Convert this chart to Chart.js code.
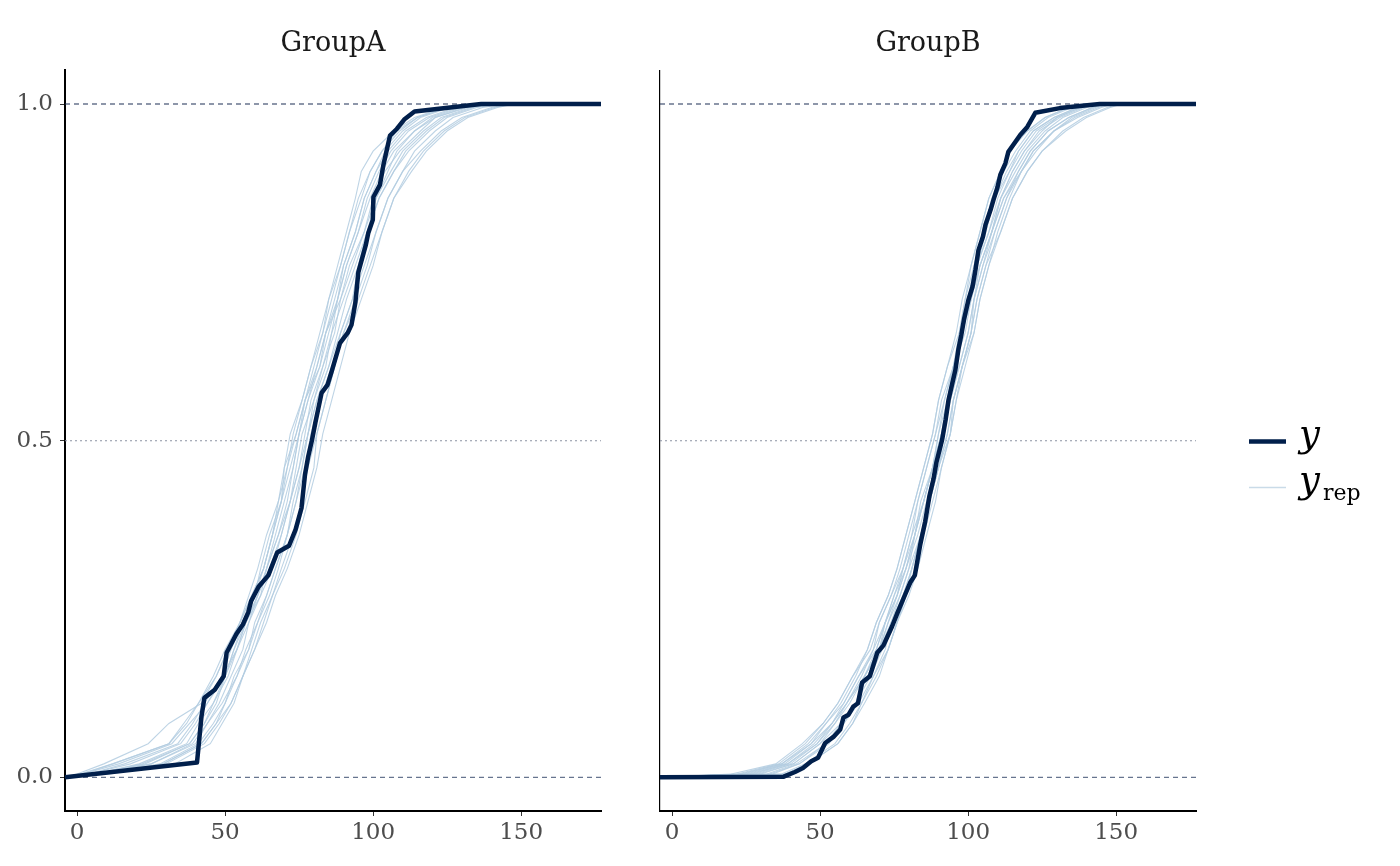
<!DOCTYPE html>
<html>
<head>
<meta charset="utf-8">
<title>ECDF overlay: y vs y_rep</title>
<script src="https://cdn.jsdelivr.net/npm/chart.js@4.4.1/dist/chart.umd.min.js"></script>
<style>
  body { margin: 0; background: #fff; }
  #wrap { position: relative; width: 1400px; height: 866px; }
  canvas { position: absolute; top: 0; }
  #panel-a { left: 0; }
  #panel-b { left: 620px; }
</style>
</head>
<body>
<div id="wrap">
  <canvas id="panel-a" width="620" height="866"></canvas>
  <canvas id="panel-b" width="780" height="866"></canvas>
</div>
<script>
const panelTitles = ['GroupA', 'GroupB'];
const xTicks = [0, 50, 100, 150];
const yTicks = [0, 0.5, 1];
const xLimits = [-4.1, 177];
const yLimits = [-0.05, 1.05];
const legendLabels = ['y', 'y'];
const legendSubs = ['', 'rep'];

// observed data, GroupA (value, cumulative share)
const obsAx = [40.5, 42.0, 43.0, 46.5, 49.5, 50.5, 53.8, 56.0, 57.8, 58.8, 61.3, 64.6, 67.6, 71.6, 73.8, 75.8, 77.0, 78.0, 79.3, 80.5, 82.6, 84.6, 86.0, 88.8, 91.4, 92.7, 94.0, 95.0, 97.5, 98.4, 99.9, 100.1, 102.3, 103.5, 105.7, 108.0, 110.5, 114.0, 136.5];
const obsAp = [0.022, 0.09, 0.118, 0.13, 0.15, 0.185, 0.213, 0.227, 0.245, 0.262, 0.283, 0.30, 0.334, 0.344, 0.368, 0.40, 0.45, 0.475, 0.50, 0.527, 0.571, 0.583, 0.603, 0.645, 0.66, 0.672, 0.705, 0.75, 0.79, 0.809, 0.828, 0.862, 0.88, 0.91, 0.953, 0.963, 0.977, 0.989, 1.0];

// observed data, GroupB
const obsBx = [37.7, 41.5, 44.2, 47.0, 49.3, 51.7, 54.5, 56.8, 57.9, 59.6, 61.2, 62.8, 64.2, 66.8, 69.3, 71.4, 74.3, 76.2, 78.2, 80.4, 82.0, 83.8, 85.5, 86.9, 88.3, 89.3, 91.2, 92.4, 93.4, 94.7, 95.7, 96.7, 97.7, 98.7, 100.1, 101.5, 102.5, 103.5, 105.0, 105.9, 107.6, 108.6, 109.9, 110.9, 112.6, 113.6, 116.0, 117.6, 120.0, 122.7, 131.0, 144.5];
const obsBp = [0.001, 0.008, 0.014, 0.024, 0.029, 0.051, 0.06, 0.071, 0.089, 0.093, 0.105, 0.11, 0.141, 0.15, 0.185, 0.196, 0.224, 0.245, 0.266, 0.289, 0.30, 0.345, 0.38, 0.417, 0.443, 0.468, 0.501, 0.531, 0.561, 0.586, 0.605, 0.635, 0.657, 0.682, 0.709, 0.729, 0.754, 0.783, 0.803, 0.821, 0.843, 0.858, 0.876, 0.895, 0.912, 0.929, 0.944, 0.954, 0.966, 0.987, 0.994, 1.0];

// replicated draws: value reached at each cumulative share
const repProbs = [0.005, 0.02, 0.05, 0.08, 0.11, 0.15, 0.19, 0.23, 0.27, 0.31, 0.36, 0.41, 0.46, 0.51, 0.56, 0.61, 0.66, 0.71, 0.76, 0.81, 0.86, 0.90, 0.93, 0.96, 0.98, 0.995, 1.0];

const repA = [
  [1, 12, 31, 36, 41, 46, 50, 55, 58, 61, 64, 68, 70, 72, 76, 79, 83, 85, 89, 92, 95, 99, 103, 108, 115, 125, 134],
  [4, 16, 34, 39, 43, 49, 52, 56, 60, 62, 65, 69, 70, 74, 77, 82, 84, 89, 92, 97, 101, 106, 110, 117, 123, 133, 141],
  [7, 25, 39, 44, 48, 52, 56, 58, 62, 66, 69, 72, 75, 77, 79, 83, 86, 88, 91, 95, 98, 102, 106, 112, 119, 129, 137],
  [11, 33, 45, 49, 53, 56, 59, 62, 66, 69, 73, 76, 78, 81, 84, 87, 90, 94, 98, 101, 105, 110, 114, 121, 127, 137, 145],
  [6, 21, 37, 41, 46, 51, 54, 57, 62, 64, 68, 72, 74, 76, 80, 83, 87, 89, 93, 97, 100, 104, 109, 116, 121, 132, 140],
  [8, 28, 41, 46, 50, 53, 58, 60, 64, 67, 71, 74, 77, 79, 82, 86, 90, 95, 99, 103, 107, 113, 118, 125, 132, 142, 148],
  [2, 14, 32, 38, 44, 49, 54, 57, 61, 64, 68, 71, 73, 75, 77, 80, 83, 86, 89, 92, 96, 99, 103, 109, 115, 125, 135],
  [0, 9, 24, 31, 42, 47, 51, 55, 59, 63, 66, 69, 72, 75, 78, 81, 84, 87, 90, 94, 97, 101, 105, 111, 118, 128, 138],
  [10, 30, 43, 48, 52, 56, 60, 63, 66, 70, 74, 77, 80, 81, 84, 87, 89, 93, 95, 98, 102, 107, 111, 118, 124, 134, 142],
  [9, 29, 42, 47, 52, 56, 60, 64, 67, 71, 75, 78, 81, 83, 86, 89, 92, 96, 100, 103, 107, 112, 117, 124, 131, 141, 147],
  [6, 22, 38, 43, 46, 50, 53, 56, 60, 63, 66, 68, 71, 73, 76, 79, 82, 85, 88, 91, 94, 96, 100, 107, 114, 124, 133],
  [7, 25, 40, 44, 49, 54, 58, 61, 65, 68, 71, 74, 76, 78, 80, 84, 86, 90, 94, 98, 101, 105, 108, 114, 120, 130, 139],
  [4, 18, 35, 40, 44, 50, 53, 57, 61, 65, 69, 72, 75, 78, 81, 85, 88, 91, 95, 98, 102, 107, 112, 119, 125, 135, 143],
  [7, 23, 38, 43, 47, 50, 54, 58, 61, 64, 67, 70, 73, 75, 78, 82, 85, 88, 90, 94, 97, 101, 104, 110, 116, 126, 136],
  [9, 29, 42, 47, 50, 54, 57, 61, 64, 67, 71, 73, 76, 78, 81, 85, 89, 93, 97, 101, 105, 110, 116, 123, 130, 140, 146],
  [2, 12, 31, 37, 41, 47, 51, 55, 59, 63, 66, 69, 71, 74, 77, 81, 84, 88, 91, 95, 99, 103, 107, 114, 121, 131, 139]
];

const repB = [
  [22, 36, 45, 51, 56, 61, 66, 69, 73, 76, 79, 82, 85, 88, 90, 93, 96, 98, 101, 104, 107, 111, 114, 120, 126, 134, 139],
  [26, 39, 48, 54, 58, 63, 69, 72, 75, 79, 82, 85, 88, 91, 94, 97, 100, 102, 104, 108, 111, 115, 119, 125, 130, 138, 144],
  [32, 42, 52, 57, 62, 65, 70, 72, 75, 78, 81, 83, 86, 89, 92, 95, 99, 101, 104, 108, 112, 118, 122, 129, 137, 145, 149],
  [37, 45, 55, 60, 64, 69, 73, 76, 79, 82, 85, 88, 91, 94, 96, 98, 101, 103, 106, 109, 113, 117, 121, 127, 134, 142, 146],
  [29, 41, 50, 55, 60, 65, 69, 72, 76, 78, 82, 84, 88, 90, 93, 96, 98, 101, 103, 107, 111, 115, 119, 124, 131, 139, 144],
  [39, 46, 56, 61, 65, 70, 73, 76, 79, 81, 84, 87, 90, 93, 95, 98, 101, 103, 106, 111, 115, 120, 125, 132, 139, 147, 151],
  [24, 37, 47, 52, 57, 62, 66, 69, 73, 76, 79, 82, 85, 88, 90, 93, 97, 99, 102, 105, 109, 113, 117, 122, 129, 137, 142],
  [20, 35, 44, 51, 56, 61, 67, 70, 74, 78, 81, 85, 88, 91, 93, 96, 98, 100, 102, 105, 108, 112, 116, 121, 127, 135, 141],
  [34, 43, 53, 58, 63, 68, 73, 76, 80, 83, 86, 89, 91, 94, 95, 98, 101, 102, 105, 108, 111, 116, 120, 126, 132, 140, 145],
  [30, 41, 50, 57, 62, 67, 71, 74, 78, 81, 84, 87, 90, 93, 95, 98, 102, 104, 107, 111, 115, 120, 125, 133, 140, 148, 152],
  [25, 38, 47, 54, 59, 65, 70, 74, 78, 81, 84, 87, 90, 92, 93, 95, 97, 99, 101, 104, 107, 111, 114, 120, 126, 134, 139],
  [28, 40, 49, 55, 59, 64, 68, 70, 74, 77, 80, 83, 86, 89, 91, 95, 98, 101, 104, 108, 112, 117, 121, 127, 134, 142, 146],
  [33, 43, 52, 58, 62, 66, 70, 73, 76, 79, 82, 85, 88, 90, 92, 95, 98, 100, 103, 107, 110, 114, 118, 123, 130, 138, 143],
  [23, 37, 46, 52, 58, 63, 68, 72, 76, 79, 83, 86, 89, 92, 94, 97, 100, 102, 105, 109, 113, 118, 122, 129, 136, 144, 148],
  [38, 46, 56, 61, 64, 68, 72, 74, 77, 80, 82, 85, 88, 91, 93, 96, 98, 100, 103, 106, 109, 114, 117, 122, 129, 137, 142],
  [27, 39, 49, 54, 59, 65, 70, 73, 77, 80, 84, 87, 90, 94, 96, 99, 102, 104, 107, 110, 114, 118, 123, 129, 135, 143, 147]
];

const serif = '"DejaVu Serif", serif';
const darkBlue = '#011f4b';
const lightBlue = 'rgba(179, 205, 224, 0.85)';

// ecdf line padded out to both ends of the x scale
function ecdfPoints(xs, ps) {
    const pts = [{ x: xLimits[0], y: 0 }];
    xs.forEach((v, i) => pts.push({ x: v, y: ps[i] }));
    pts.push({ x: xLimits[1], y: 1 });
    return pts;
}

function refLine(level, color, dash) {
    return {
        label: 'ref',
        data: [{ x: xLimits[0], y: level }, { x: xLimits[1], y: level }],
        borderColor: color,
        borderWidth: 1.1,
        borderDash: dash,
        pointRadius: 0
    };
}

const legendPlugin = {
    id: 'ecdfLegend',
    afterDraw(chart) {
        if (!chart.options.plugins.ecdfLegend.show) return;
        const ctx = chart.ctx;
        const x0 = chart.chartArea.right + 53;
        const rows = [441.5, 487.5];
        const styles = [{ color: darkBlue, width: 4.5 }, { color: '#c9dbe8', width: 1.5 }];
        ctx.save();
        rows.forEach((y, i) => {
            ctx.beginPath();
            ctx.strokeStyle = styles[i].color;
            ctx.lineWidth = styles[i].width;
            ctx.moveTo(x0, y);
            ctx.lineTo(x0 + 37, y);
            ctx.stroke();

            ctx.fillStyle = '#000';
            ctx.textBaseline = 'alphabetic';
            ctx.font = 'italic 37px ' + serif;
            ctx.fillText(legendLabels[i], x0 + 50, y + 4);
            if (legendSubs[i]) {
                const w = ctx.measureText(legendLabels[i]).width;
                ctx.font = '22px ' + serif;
                ctx.fillText(legendSubs[i], x0 + 50 + w + 3, y + 12);
            }
        });
        ctx.restore();
    }
};

function makePanel(canvasId, title, obsX, obsP, reps, isLeft) {
    const datasets = [];
    datasets.push({
        label: 'y',
        data: ecdfPoints(obsX, obsP),
        borderColor: darkBlue,
        borderWidth: 4.5,
        borderJoinStyle: 'round',
        pointRadius: 0
    });
    reps.forEach(r => {
        datasets.push({
            label: 'yrep',
            data: ecdfPoints(r, repProbs),
            borderColor: lightBlue,
            borderWidth: 1.1,
            pointRadius: 0
        });
    });
    datasets.push(refLine(1, '#1c2f55', [5, 4]));
    datasets.push(refLine(0.5, '#8c93a2', [2, 3]));
    datasets.push(refLine(0, '#67758f', [5, 4]));

    const canvas = document.getElementById(canvasId);
    new Chart(canvas.getContext('2d'), {
        type: 'line',
        data: { datasets: datasets },
        plugins: [legendPlugin],
        options: {
            responsive: false,
            devicePixelRatio: 1,
            animation: false,
            tension: 0,
            layout: { padding: { left: 0, right: isLeft ? 19 : 204, top: 0, bottom: 0 } },
            plugins: {
                legend: { display: false },
                tooltip: { enabled: false },
                ecdfLegend: { show: !isLeft },
                title: {
                    display: true,
                    text: title,
                    fullSize: false,
                    color: '#1a1a1a',
                    font: { family: serif, size: 27, weight: 'normal' },
                    padding: { top: 28, bottom: 10 }
                }
            },
            scales: {
                x: {
                    type: 'linear',
                    min: xLimits[0],
                    max: xLimits[1],
                    afterBuildTicks: s => { s.ticks = xTicks.map(v => ({ value: v })); },
                    afterFit: s => { s.height = 55; },
                    grid: { drawOnChartArea: false, drawTicks: true, tickLength: 5, color: '#333', lineWidth: 1 },
                    border: { display: true, color: '#000', width: 2 },
                    ticks: { color: '#4d4d4d', font: { family: serif, size: 23 }, padding: 3, maxRotation: 0, autoSkip: false }
                },
                y: {
                    type: 'linear',
                    min: yLimits[0],
                    max: yLimits[1],
                    afterBuildTicks: s => { s.ticks = yTicks.map(v => ({ value: v })); },
                    afterFit: s => { s.width = isLeft ? 65 : 40; },
                    grid: { drawOnChartArea: false, drawTicks: isLeft, tickLength: 5, color: '#333', lineWidth: 1 },
                    border: { display: true, color: '#000', width: isLeft ? 2 : 1.2 },
                    ticks: {
                        display: isLeft,
                        color: '#4d4d4d',
                        font: { family: serif, size: 23 },
                        padding: 7,
                        callback: v => v.toFixed(1)
                    }
                }
            }
        }
    });
}

makePanel('panel-a', panelTitles[0], obsAx, obsAp, repA, true);
makePanel('panel-b', panelTitles[1], obsBx, obsBp, repB, false);
</script>
</body>
</html>
